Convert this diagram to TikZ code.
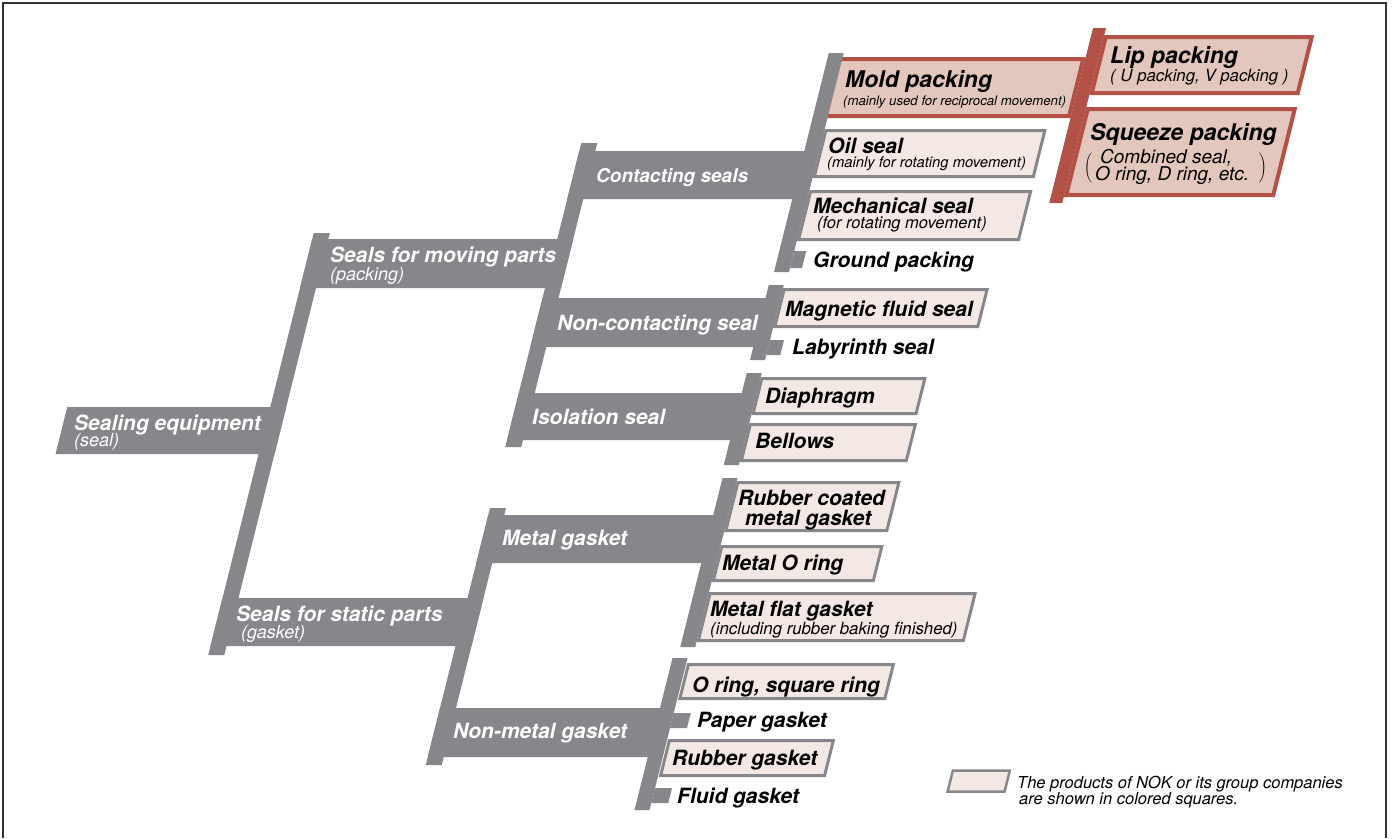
\documentclass[tikz,border=0pt]{standalone}
\usepackage{fontspec}
\setmainfont{TeX Gyre Heros}
\usepackage{xcolor}
\definecolor{bargray}{RGB}{135,134,139}
\definecolor{boxfill}{RGB}{243,232,227}
\definecolor{rustred}{RGB}{178,82,70}
\definecolor{rustfill}{RGB}{228,199,188}
\tikzset{
  bar/.style={fill=bargray},
  redbar/.style={fill=rustred},
  prodbox/.style={fill=boxfill,draw=bargray,line width=3pt},
  nokbox/.style={fill=rustfill,draw=rustred,line width=4pt},
  frameline/.style={draw=black!80,line width=1.2pt}
}

\begin{document}
\begin{tikzpicture}[
  x=1pt,y=-1pt,
  grouplab/.style={font=\fontsize{21}{23}\selectfont\bfseries\itshape,text=white,inner sep=0pt,anchor=base west},
  grouppar/.style={font=\fontsize{18}{20}\selectfont\itshape,text=white,inner sep=0pt,anchor=base west},
  itemlab/.style={font=\fontsize{21}{23}\selectfont\bfseries\itshape,inner sep=0pt,anchor=base west},
  biglab/.style={font=\fontsize{23}{25}\selectfont\bfseries\itshape,inner sep=0pt,anchor=base west},
  itempar/.style={font=\fontsize{#1}{#1}\selectfont\itshape,inner sep=0pt,anchor=base west},
  itempar/.default=15
]
\useasboundingbox (0,0) rectangle (1392,838);
\fill[white] (0,0) rectangle (1392,838);
\draw[frameline] (3,838) -- (3,3) -- (1386,3) -- (1386,838);

\begin{scope}[xslant=0.25]
  % product boxes (grey = NOK products)
  \foreach \wa/\ya/\wb/\yb in {858.5/130.5/1077.5/176.5, 858.5/191.5/1078.5/239.5,
      856.5/289.5/1059.5/326.5, 856.5/378.5/1019.5/413.5, 856.5/424.5/1021.5/460.5,
      858.5/482.5/1019.5/530.5, 858.5/546.5/1018.5/580.5, 858.5/593.5/1123.5/640.5,
      854.5/664.5/1059.5/698.5, 854.5/740.5/1018.5/775.5}
    \draw[prodbox] (\wa,\ya) rectangle (\wb,\yb);
  \draw[prodbox,line width=2.5pt] (1145.5,770.5) rectangle (1202.5,791.5);

  % mold packing branch
  \draw[nokbox] (850,59) rectangle (1098,116);
  \draw[nokbox] (1115,37) rectangle (1321,93);
  \draw[nokbox] (1115,109) rectangle (1322,195);
  \fill[redbar] (1100,28) rectangle (1113,203);

  % root and trunk
  \fill[bar] (169,407) rectangle (388,454);
  \fill[bar] (372,233) rectangle (388,655);
  \fill[bar] (372,239) rectangle (633,288);
  \fill[bar] (372,598) rectangle (633,646);

  % second level
  \fill[bar] (617,143) rectangle (633,447);
  \fill[bar] (617,508) rectangle (633,765);
  \foreach \ya/\yb in {151/199, 298/347, 393/440, 515/563, 708/757}
    \fill[bar] (617,\ya) rectangle (850,\yb);

  % third level bars
  \fill[bar] (842,53) rectangle (857,272);
  \fill[bar] (840,285) rectangle (855,360);
  \fill[bar] (840,373) rectangle (855,465);
  \fill[bar] (842,478) rectangle (857,647);
  \fill[bar] (837,658) rectangle (852,810);

  % stubs without box
  \foreach \wa/\ya/\yb in {857/251/268, 855/340/355, 852/713/728, 852/788/803}
    \fill[bar] (\wa,\ya) rectangle (869,\yb);
\end{scope}

% group labels
\node[grouplab] (root) at (74,430) {Sealing equipment};
\node[grouppar] (rootpar) at (74,446) {(seal)};
\node[grouplab] (moving) at (330,262) {Seals for moving parts};
\node[grouppar] (movingpar) at (330,280) {(packing)};
\node[grouplab] (static) at (236,621) {Seals for static parts};
\node[grouppar] (staticpar) at (241,638) {(gasket)};
\node[grouplab,font=\fontsize{19}{21}\selectfont\bfseries\itshape] (contact) at (596,182) {Contacting seals};
\node[grouplab] (noncontact) at (557,330) {Non-contacting seal};
\node[grouplab] (isolation) at (532,424) {Isolation seal};
\node[grouplab] (metal) at (502,545) {Metal gasket};
\node[grouplab] (nonmetal) at (453,738) {Non-metal gasket};

% item labels
\foreach \nm/\x/\y/\txt in {oil/828/153/Oil seal, mech/813/213/Mechanical seal,
    ground/813/267/Ground packing, magnetic/785/316/Magnetic fluid seal,
    labyrinth/792/354/Labyrinth seal, diaphragm/765/403/Diaphragm,
    bellows/755/448/Bellows, rubcoat/738/505/Rubber coated, rubcoatb/745/525/metal gasket,
    metalo/722/570/Metal O ring, metalflat/710/616/Metal flat gasket,
    oring/692/692/{O ring, square ring}, paper/697/727/Paper gasket,
    rubber/672/765/Rubber gasket, fluid/677/803/Fluid gasket}
  \node[itemlab] (\nm) at (\x,\y) {\txt};

\node[itempar=14.8] (oilpar) at (827,167) {(mainly for rotating movement)};
\node[itempar=16.5] (mechpar) at (817,228) {(for rotating movement)};
\node[itempar=16.8] (metalflatpar) at (710,634) {(including rubber baking finished)};

% NOK red branch
\node[biglab] (mold) at (845,87) {Mold packing};
\node[itempar=13.2] (moldpar) at (843,105) {(mainly used for reciprocal movement)};
\node[biglab] (lip) at (1110,63) {Lip packing};
\node[itempar=16.8] (lippar) at (1110,81) {( U packing, V packing )};
\node[biglab] (squeeze) at (1090,140) {Squeeze packing};
\node[itempar=19] (squeezea) at (1100,163) {Combined seal,};
\node[itempar=19] (squeezeb) at (1095,180) {O ring, D ring, etc.};
\node[anchor=west,inner sep=0pt] (sqzl) at (1084,168) {$\left(\vrule height 13pt depth 13pt width 0pt\right.$};
\node[anchor=east,inner sep=0pt] (sqzr) at (1267,168) {$\left.\vrule height 13pt depth 13pt width 0pt\right)$};

% legend
\node[itempar=16.5] (legenda) at (1017,788) {The products of NOK or its group companies};
\node[itempar=16.5] (legendb) at (1019,804) {are shown in colored squares.};

\end{tikzpicture}
\end{document}
